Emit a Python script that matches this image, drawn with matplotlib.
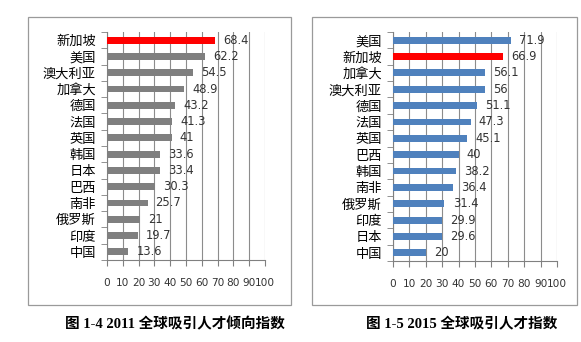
import matplotlib.pyplot as plt
import numpy as np
from matplotlib.patches import Rectangle

plt.rcParams['font.family'] = ['Noto Sans CJK SC', 'DejaVu Sans']

# 2011 data (top to bottom)
countries_2011 = ['新加坡', '美国', '澳大利亚', '加拿大', '德国', '法国', '英国',
                  '韩国', '日本', '巴西', '南非', '俄罗斯', '印度', '中国']
values_2011 = [68.4, 62.2, 54.5, 48.9, 43.2, 41.3, 41, 33.6, 33.4, 30.3, 25.7, 21, 19.7, 13.6]
labels_2011 = ['68.4', '62.2', '54.5', '48.9', '43.2', '41.3', '41', '33.6', '33.4',
               '30.3', '25.7', '21', '19.7', '13.6']

# 2015 data (top to bottom)
countries_2015 = ['美国', '新加坡', '加拿大', '澳大利亚', '德国', '法国', '英国',
                  '巴西', '韩国', '南非', '俄罗斯', '印度', '日本', '中国']
values_2015 = [71.9, 66.9, 56.1, 56, 51.1, 47.3, 45.1, 40, 38.2, 36.4, 31.4, 29.9, 29.6, 20]
labels_2015 = ['71.9', '66.9', '56.1', '56', '51.1', '47.3', '45.1', '40', '38.2',
               '36.4', '31.4', '29.9', '29.6', '20']

xticks = [0, 10, 20, 30, 40, 50, 60, 70, 80, 90, 100]
caption_2011 = '图 1-4 2011 全球吸引人才倾向指数'
caption_2015 = '图 1-5 2015 全球吸引人才指数'

W, H = 581, 342
fig = plt.figure(figsize=(W / 100, H / 100), dpi=100)


def px_rect(x0, y0, x1, y1):
    return [x0 / W, 1 - y1 / H, (x1 - x0) / W, (y1 - y0) / H]


# frames
for (x0, y0, x1, y1) in [(28, 17, 291, 305), (312, 17, 577, 305)]:
    fig.patches.append(Rectangle((x0 / W, 1 - y1 / H), (x1 - x0) / W, (y1 - y0) / H,
                                 transform=fig.transFigure, fill=False,
                                 edgecolor='#9a9a9a', linewidth=0.9))


def draw(ax, names, vals, labels, base_color):
    n = len(names)
    y = np.arange(n)
    colors = ['#ff0000' if c == '新加坡' else base_color for c in names]
    ax.barh(y, vals, height=0.42, color=colors, zorder=3)
    for yi, v, t in zip(y, vals, labels):
        ax.text(v + 5, yi, t, va='center', ha='left', fontsize=8.3,
                color='#333333', family=['DejaVu Sans'], zorder=4)
    ax.set_ylim(n - 0.5, -0.5)
    ax.set_xlim(0, 100)
    ax.set_yticks(y)
    ax.set_yticklabels(names, fontsize=9.5)
    ax.set_yticks(np.arange(n + 1) - 0.5, minor=True)
    ax.tick_params(axis='y', which='major', length=0, pad=8)
    ax.tick_params(axis='y', which='minor', length=4, color='#808080', direction='out')
    ax.set_xticks(xticks)
    ax.set_xticklabels([str(t) for t in xticks], fontsize=7.6,
                       family=['DejaVu Sans'], color='#333333')
    ax.tick_params(axis='x', length=4, color='#808080', pad=9)
    ax.xaxis.grid(True, color='#8c8c8c', linewidth=0.8, zorder=0)
    ax.set_axisbelow(True)
    for s in ['top', 'right']:
        ax.spines[s].set_visible(False)
    for s in ['left', 'bottom']:
        ax.spines[s].set_color('#808080')
        ax.spines[s].set_linewidth(0.8)


ax1 = fig.add_axes(px_rect(107, 32, 265, 260))
draw(ax1, countries_2011, values_2011, labels_2011, '#7f7f7f')
ax2 = fig.add_axes(px_rect(393, 32, 557, 261))
draw(ax2, countries_2015, values_2015, labels_2015, '#4f81bd')

cap_font = ['Liberation Serif', 'Noto Sans CJK SC']
fig.text(175 / W, 1 - 324 / H, caption_2011, ha='center', va='center',
         fontsize=10.5, fontweight='bold', family=cap_font)
fig.text(462 / W, 1 - 324 / H, caption_2015, ha='center', va='center',
         fontsize=10.5, fontweight='bold', family=cap_font)

fig.savefig('out.png', dpi=100)
